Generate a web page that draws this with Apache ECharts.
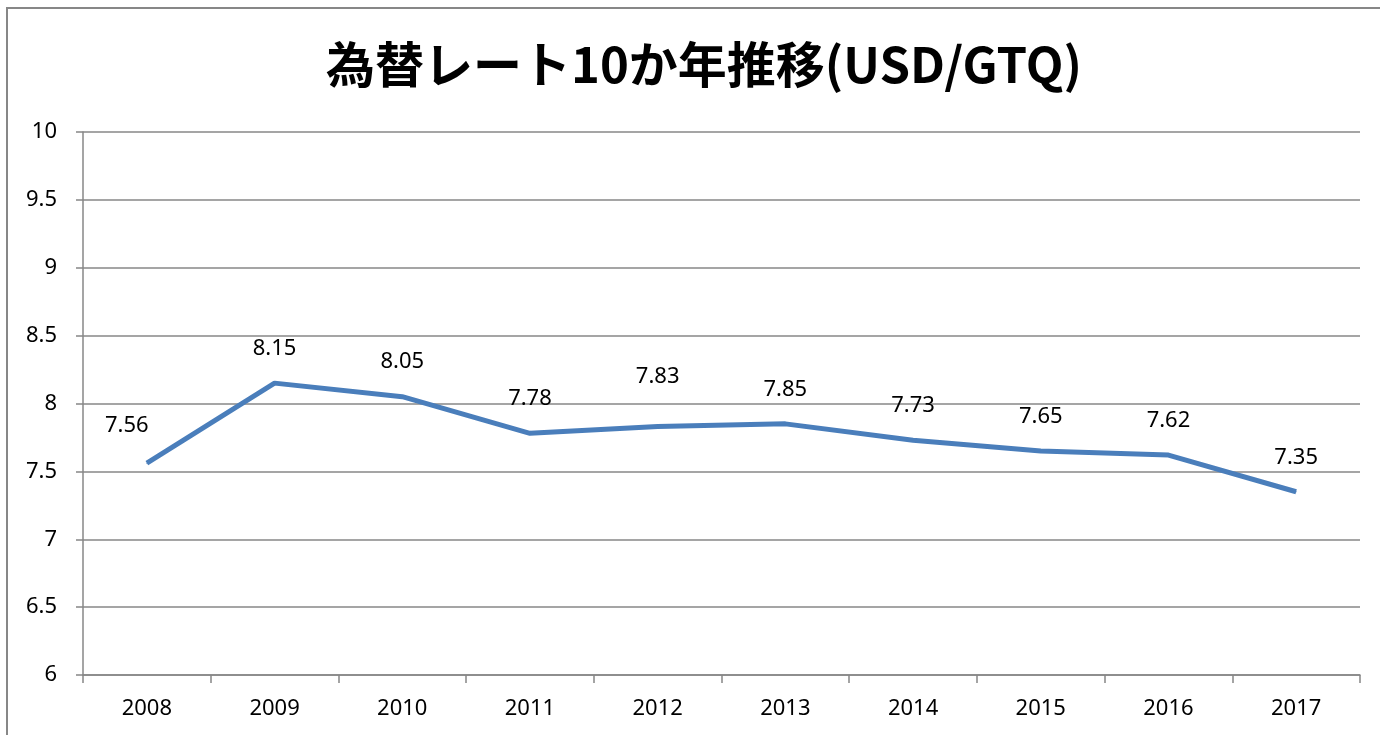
<!DOCTYPE html>
<html>
<head>
    <meta charset="utf-8">
    <title>為替レート10か年推移</title>
    <script type="text/javascript" src="https://cdn.jsdelivr.net/npm/echarts@6/dist/echarts.min.js"></script>
    <style>
        html, body { margin: 0; padding: 0; background: #fff; }
    </style>
</head>
<body>
<div id="container" style="width: 1380px; height: 735px"></div>
<script type="text/javascript">
    // 年とレート
    var years = ['2008', '2009', '2010', '2011', '2012', '2013', '2014', '2015', '2016', '2017'];
    var rates = [7.56, 8.15, 8.05, 7.78, 7.83, 7.85, 7.73, 7.65, 7.62, 7.35];

    var dom = document.getElementById('container');
    var myChart = echarts.init(dom, null, {renderer: 'canvas'});

    var font = '"Noto Sans", sans-serif';
    var grayLine = '#878787';

    // ラベルの位置ずれ (Excelの配置に合わせる)
    var labelNudge = {0: [-20, -3], 4: [0, -15]};
    var seriesData = rates.map(function (v, i) {
        var item = {value: v};
        if (labelNudge[i]) {
            item.label = {offset: labelNudge[i]};
        }
        return item;
    });

    var option = {
        animation: false,
        backgroundColor: '#fff',
        title: {
            text: '為替レート10か年推移(USD/GTQ)',
            left: 321,
            top: 35,
            textStyle: {
                fontFamily: '"Noto Sans CJK JP", sans-serif',
                fontWeight: 'bold',
                fontSize: 49,
                color: '#000'
            }
        },
        graphic: [{
            type: 'rect',
            shape: {x: 7, y: 8, width: 1400, height: 760},
            style: {fill: 'none', stroke: grayLine, lineWidth: 2},
            silent: true
        }],
        grid: {
            left: 83,
            right: 20,
            top: 132,
            bottom: 60
        },
        xAxis: {
            type: 'category',
            data: years,
            boundaryGap: true,
            axisLine: {lineStyle: {color: grayLine, width: 1.5}},
            axisTick: {show: true, length: 8, lineStyle: {color: grayLine, width: 1.5}},
            axisLabel: {color: '#000', fontSize: 22, fontFamily: font, margin: 23}
        },
        yAxis: {
            type: 'value',
            min: 6,
            max: 10,
            interval: 0.5,
            axisLine: {show: true, lineStyle: {color: grayLine, width: 1.5}},
            axisTick: {show: true, length: 7, lineStyle: {color: grayLine, width: 1.5}},
            axisLabel: {color: '#000', fontSize: 22, fontFamily: font, margin: 26},
            splitLine: {lineStyle: {color: grayLine, width: 1.5}}
        },
        series: [{
            type: 'line',
            data: seriesData,
            symbol: 'circle',
            symbolSize: 1,
            showSymbol: true,
            itemStyle: {color: '#4a7ebb'},
            lineStyle: {color: '#4a7ebb', width: 5},
            label: {
                show: true,
                position: 'top',
                distance: 23,
                color: '#000',
                fontSize: 22,
                fontFamily: font
            }
        }]
    };

    myChart.setOption(option);
    window.addEventListener('resize', myChart.resize);
</script>
</body>
</html>
